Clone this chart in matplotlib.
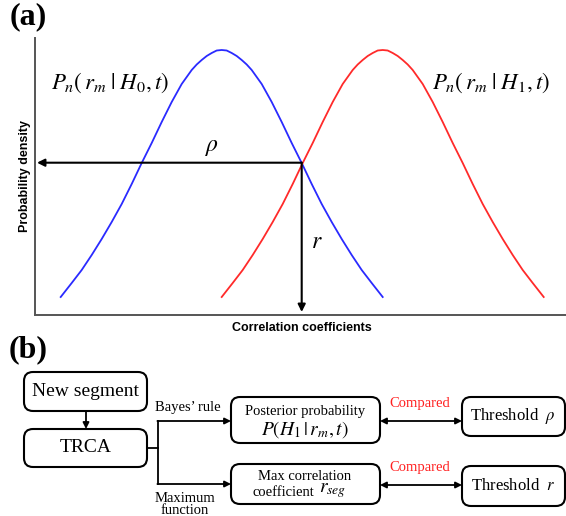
import numpy as np
import matplotlib.pyplot as plt
from matplotlib.patches import FancyBboxPatch

plt.rcParams['font.family'] = ['Liberation Serif', 'DejaVu Serif']
plt.rcParams['mathtext.fontset'] = 'stix'

# bell profile: height above the axis at offsets from the peak
offsets = [0, 5, 10, 15, 20, 25, 30, 40, 50, 60, 70, 80, 90, 100, 110, 120, 130, 140, 150, 161]
heights = [265, 264.5, 262, 259, 255, 250.5, 245, 231, 213, 193, 172, 152, 131, 111, 93, 76, 60, 45, 32, 18]
centre_h0 = 186.7
centre_h1 = 347.7
cross_x, cross_y = 266.7, 152.3

labels_a = [r"$P_n\left(\,r_m\;|\;H_0,t\right)$", r"$P_n\left(\,r_m\;|\;H_1,t\right)$"]

off = np.array(offsets, dtype=float)
hh = np.array(heights, dtype=float)
prof_x = np.concatenate((-off[::-1], off[1:]))
prof_y = np.concatenate((hh[::-1], hh[1:]))

W, H = 566, 516
fig = plt.figure(figsize=(W/100, H/100), dpi=100)

# ---- panel (a)
ax = fig.add_axes([35/W, (H-315)/H, (W-35)/W, (315-38)/H])
ax.set_xlim(0, W-35)
ax.set_ylim(0, 315-38)
for s in ["top", "right"]:
    ax.spines[s].set_visible(False)
for s in ["left", "bottom"]:
    ax.spines[s].set_color("#555555")
    ax.spines[s].set_linewidth(1.4)
ax.set_xticks([])
ax.set_yticks([])

ax.plot(prof_x + centre_h0, prof_y, c="#2a2aff", lw=1.3)
ax.plot(prof_x + centre_h1, prof_y, c="#ff2a2a", lw=1.3)

arr = dict(arrowstyle="-|>", color="k", lw=1.5, mutation_scale=11, shrinkA=0, shrinkB=0)
ax.annotate("", xy=(2, cross_y), xytext=(cross_x, cross_y), arrowprops=arr)
ax.annotate("", xy=(cross_x, 3), xytext=(cross_x, cross_y), arrowprops=arr)

ax.text(176.7, 167, r"$\rho$", fontsize=17, ha="center", va="center")
ax.text(281.7, 73, r"$r$", fontsize=17, ha="center", va="center")
ax.text(75, 232, labels_a[0], fontsize=16.5, ha="center", va="center")
ax.text(456, 232, labels_a[1], fontsize=16.5, ha="center", va="center")

ax.set_ylabel("Probability density", fontfamily="Liberation Sans", fontweight="bold",
              fontsize=9)
ax.yaxis.set_label_coords(-4/(W-35), (315-176)/277)
ax.set_xlabel("Correlation coefficients", fontfamily="Liberation Sans", fontweight="bold",
              fontsize=9)
ax.xaxis.set_label_coords((301.7-35)/(W-35), -7/277)

# ---- panel (b), drawn in pixel units
bx = fig.add_axes([0, 0, 1, 1], zorder=-1)
bx.set_xlim(0, W)
bx.set_ylim(H, 0)
bx.axis("off")

bx.text(28, 17, "(a)", fontsize=23, fontweight="bold", ha="center", va="center")
bx.text(28, 350, "(b)", fontsize=23, fontweight="bold", ha="center", va="center")

def box(x0, y0, x1, y1):
    bx.add_patch(FancyBboxPatch((x0, y0), x1-x0, y1-y0,
                                boxstyle="round,pad=0,rounding_size=9",
                                fc="white", ec="k", lw=1.5))

box(24, 372, 147, 411)
box(24, 429, 147, 467)
box(231, 397, 380, 443)
box(231, 464, 380, 504)
box(462, 397, 565, 436)
box(462, 466, 565, 506)

one = dict(arrowstyle="-|>", color="k", lw=1.3, mutation_scale=9, shrinkA=0, shrinkB=0)
two = dict(arrowstyle="<|-|>", color="k", lw=1.3, mutation_scale=9, shrinkA=0, shrinkB=0)
bx.annotate("", xy=(86, 429), xytext=(86, 411), arrowprops=one)
bx.plot([147, 158], [448, 448], c="k", lw=1.3)
bx.plot([158, 158], [421, 484], c="k", lw=1.3)
bx.annotate("", xy=(231, 421), xytext=(157.4, 421), arrowprops=one)
bx.annotate("", xy=(231, 484), xytext=(157.4, 484), arrowprops=one)
bx.annotate("", xy=(462, 421), xytext=(380, 421), arrowprops=two)
bx.annotate("", xy=(462, 485), xytext=(380, 485), arrowprops=two)

bx.text(85.5, 391, "New segment", fontsize=14, ha="center", va="center")
bx.text(85.5, 448, "TRCA", fontsize=14, ha="center", va="center")
bx.text(188, 407, "Bayes’ rule", fontsize=10.5, ha="center", va="center")
bx.text(185, 499, "Maximum", fontsize=10.5, ha="center", va="center")
bx.text(185, 511, "function", fontsize=10.5, ha="center", va="center")
bx.text(305, 412, "Posterior probability", fontsize=10.5, ha="center", va="center")
bx.text(305, 430, r"$P(H_1\,|\,r_m,t)$", fontsize=14, ha="center", va="center")
bx.text(305, 476, "Max correlation", fontsize=10.5, ha="center", va="center")
bx.text(314, 492, "coefficient", fontsize=10.5, ha="right", va="center")
bx.text(319, 491, r"$r_{seg}$", fontsize=14, ha="left", va="center")
bx.text(420, 403, "Compared", fontsize=10.5, color="#ff2020", ha="center", va="center")
bx.text(420, 468, "Compared", fontsize=10.5, color="#ff2020", ha="center", va="center")
bx.text(513, 416, r"Threshold  $\rho$", fontsize=12, ha="center", va="center")
bx.text(513, 486, r"Threshold  $r$", fontsize=12, ha="center", va="center")

fig.savefig("out.png", dpi=100)
